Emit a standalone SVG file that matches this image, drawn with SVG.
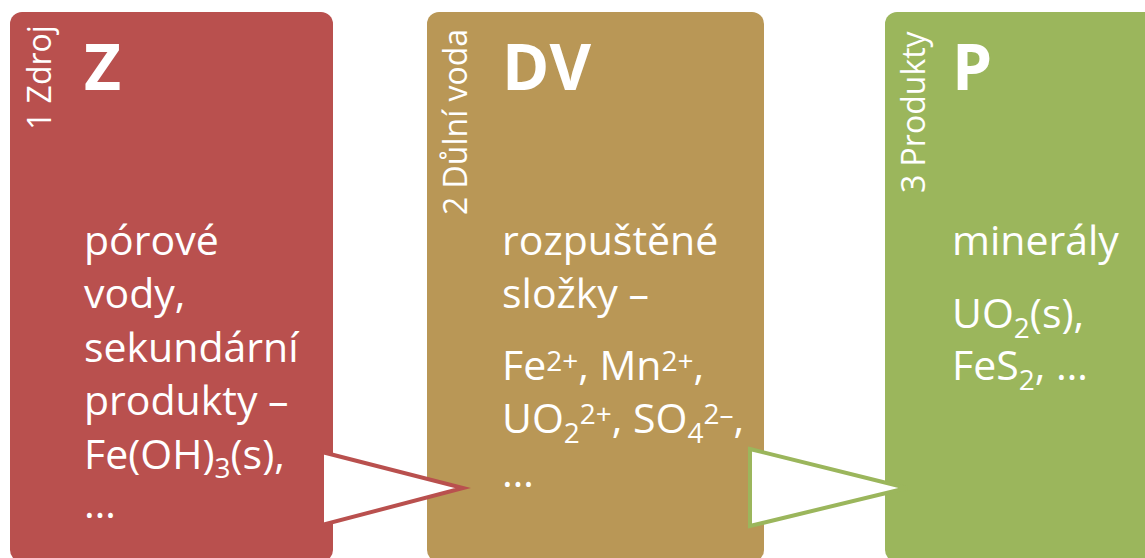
<svg xmlns="http://www.w3.org/2000/svg" width="1145" height="558" viewBox="0 0 1145 558">
  <style>
    .t { font-family: "Open Sans", "Noto Sans", "DejaVu Sans", sans-serif; fill: #ffffff; }
    .side { font-size: 32px; }
    .title { font-size: 64px; font-weight: bold; }
    .body { font-size: 41px; }
    .sm { font-size: 28px; }
    .red { fill: #B9504E; }
    .tan { fill: #B99756; }
    .grn { fill: #9BB65C; }
    .arrow { fill: #ffffff; stroke-width: 4; stroke-linejoin: miter; }
  </style>
  <rect width="1145" height="558" fill="#ffffff"/>

  <g id="node-z">
    <rect class="red" x="10" y="12" width="323" height="550" rx="12" ry="12"/>
    <text class="t side" transform="translate(51,130) rotate(-90)">1 Zdroj</text>
    <text class="t title" x="84" y="90">Z</text>
    <text class="t body" x="84" y="255">pórové</text>
    <text class="t body" x="84" y="308">vody,</text>
    <text class="t body" x="84" y="362">sekundární</text>
    <text class="t body" x="84" y="415">produkty –</text>
    <text class="t body" x="84" y="469">Fe(OH)<tspan class="sm" dy="9">3</tspan><tspan dy="-9">(s),</tspan></text>
    <text class="t body" x="84" y="518">…</text>
  </g>

  <g id="node-dv">
    <rect class="tan" x="427" y="12" width="337" height="550" rx="12" ry="12"/>
    <text class="t side" transform="translate(467,215) rotate(-90)">2 Důlní voda</text>
    <text class="t title" x="502" y="90">DV</text>
    <text class="t body" x="502" y="255">rozpuštěné</text>
    <text class="t body" x="502" y="308">složky –</text>
    <text class="t body" x="502" y="380">Fe<tspan class="sm" dy="-9">2+</tspan><tspan dy="9">, Mn</tspan><tspan class="sm" dy="-9">2+</tspan><tspan dy="9">,</tspan></text>
    <text class="t body" x="502" y="433">UO<tspan class="sm" dy="10">2</tspan><tspan class="sm" dy="-19">2+</tspan><tspan dy="9">, SO</tspan><tspan class="sm" dy="10">4</tspan><tspan class="sm" dy="-19">2–</tspan><tspan dy="9">,</tspan></text>
    <text class="t body" x="502" y="487">…</text>
  </g>

  <g id="node-p">
    <rect class="grn" x="885" y="12" width="337" height="550" rx="12" ry="12"/>
    <text class="t side" transform="translate(925,193) rotate(-90)">3 Produkty</text>
    <text class="t title" x="952" y="90">P</text>
    <text class="t body" x="952" y="255">minerály</text>
    <text class="t body" x="952" y="328">UO<tspan class="sm" dy="10">2</tspan><tspan dy="-10">(s),</tspan></text>
    <text class="t body" x="952" y="380">FeS<tspan class="sm" dy="10">2</tspan><tspan dy="-10">, …</tspan></text>
  </g>

  <g id="connectors">
    <polygon class="arrow" stroke="#B9504E" points="322,452 463,488 322,525"/>
    <polygon class="arrow" stroke="#9BB65C" points="750,449 907,488 750,526"/>
  </g>
</svg>
